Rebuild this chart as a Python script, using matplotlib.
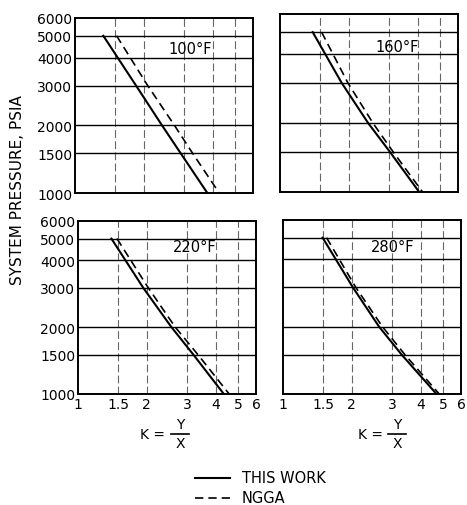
import matplotlib
matplotlib.use("Agg")
import matplotlib.pyplot as plt
from matplotlib.ticker import FixedLocator, FixedFormatter, NullLocator

plt.rcParams['font.family'] = ['DejaVu Sans']

pressure = [5000, 3000, 2000, 1500, 1000]
temps = ["100°F", "160°F", "220°F", "280°F"]
k_this_work = [
    [1.33, 1.85, 2.40, 2.90, 3.79],
    [1.39, 1.86, 2.43, 3.02, 4.06],
    [1.40, 1.93, 2.56, 3.20, 4.34],
    [1.49, 2.02, 2.63, 3.30, 4.69],
]
k_ngga = [
    [1.52, 2.08, 2.72, 3.27, 4.27],
    [1.52, 1.98, 2.55, 3.12, 4.20],
    [1.48, 2.03, 2.66, 3.35, 4.58],
    [1.55, 2.08, 2.72, 3.41, 4.82],
]
x_ticks = [1, 1.5, 2, 3, 4, 5, 6]
x_ticklabels = ["1", "1.5", "2", "3", "4", "5", "6"]
y_ticks = [1000, 1500, 2000, 3000, 4000, 5000, 6000]
y_ticklabels = ["1000", "1500", "2000", "3000", "4000", "5000", "6000"]
x_grid = [1.5, 2, 3, 4, 5]
y_grid = [1500, 2000, 3000, 4000, 5000]

W, H = 467, 506
fig = plt.figure(figsize=(W / 100, H / 100), dpi=100)

def fx(px):
    return px / W

def fy(py):
    return 1 - py / H

# pixel boxes: (left, top, right, bottom)
boxes = [
    (75, 19, 253, 194),
    (280, 15, 458, 193),
    (78, 222, 256, 395),
    (283, 221, 461, 395),
]
label_pos = [(190, 50), (397, 48), (195, 248), (393, 247)]

for i, (l, t, r, b) in enumerate(boxes):
    ax = fig.add_axes([fx(l), fy(b), (r - l) / W, (b - t) / H])
    ax.set_xscale('log')
    ax.set_yscale('log')
    ax.set_xlim(1, 6)
    ax.set_ylim(1000, 6000)
    for g in x_grid:
        ax.axvline(g, color='#666666', lw=0.8, ls=(0, (7, 3)), zorder=1)
    for g in y_grid:
        ax.axhline(g, color='black', lw=1.0, zorder=1)
    ax.plot(k_this_work[i], pressure, color='black', lw=1.5, zorder=3)
    ax.plot(k_ngga[i], pressure, color='black', lw=1.2, ls=(0, (5, 3)), zorder=3)
    ax.xaxis.set_major_locator(FixedLocator(x_ticks))
    ax.yaxis.set_major_locator(FixedLocator(y_ticks))
    ax.xaxis.set_minor_locator(NullLocator())
    ax.yaxis.set_minor_locator(NullLocator())
    ax.tick_params(length=0, labelsize=10, pad=2)
    if i >= 2:
        ax.xaxis.set_major_formatter(FixedFormatter(x_ticklabels))
    else:
        ax.set_xticklabels([])
    if i % 2 == 0:
        ax.yaxis.set_major_formatter(FixedFormatter(y_ticklabels))
    else:
        ax.set_yticklabels([])
    for s in ax.spines.values():
        s.set_linewidth(1.4)
    lx, ly = label_pos[i]
    fig.text(fx(lx), fy(ly), temps[i], ha='center', va='center', fontsize=10.5)

fig.text(fx(18), fy(190), "SYSTEM PRESSURE, PSIA", rotation=90,
         ha='center', va='center', fontsize=11)

# K = Y / X labels
for dx in (0, 217):
    fig.text(fx(153 + dx), fy(435), "K =", ha='center', va='center', fontsize=10)
    fig.text(fx(180 + dx), fy(425), "Y", ha='center', va='center', fontsize=10)
    fig.text(fx(180 + dx), fy(444), "X", ha='center', va='center', fontsize=10)
    fig.add_artist(plt.Line2D([fx(171 + dx), fx(189 + dx)], [fy(434.5), fy(434.5)],
                              color='black', lw=1.2))

# legend
fig.add_artist(plt.Line2D([fx(195), fx(230)], [fy(479), fy(479)],
                          color='black', lw=1.5))
fig.add_artist(plt.Line2D([fx(195), fx(230)], [fy(499), fy(499)],
                          color='black', lw=1.2, ls=(0, (5, 3))))
fig.text(fx(242), fy(479), "THIS WORK", ha='left', va='center', fontsize=10.5)
fig.text(fx(242), fy(499), "NGGA", ha='left', va='center', fontsize=10.5)

fig.savefig("out.png", dpi=100)
